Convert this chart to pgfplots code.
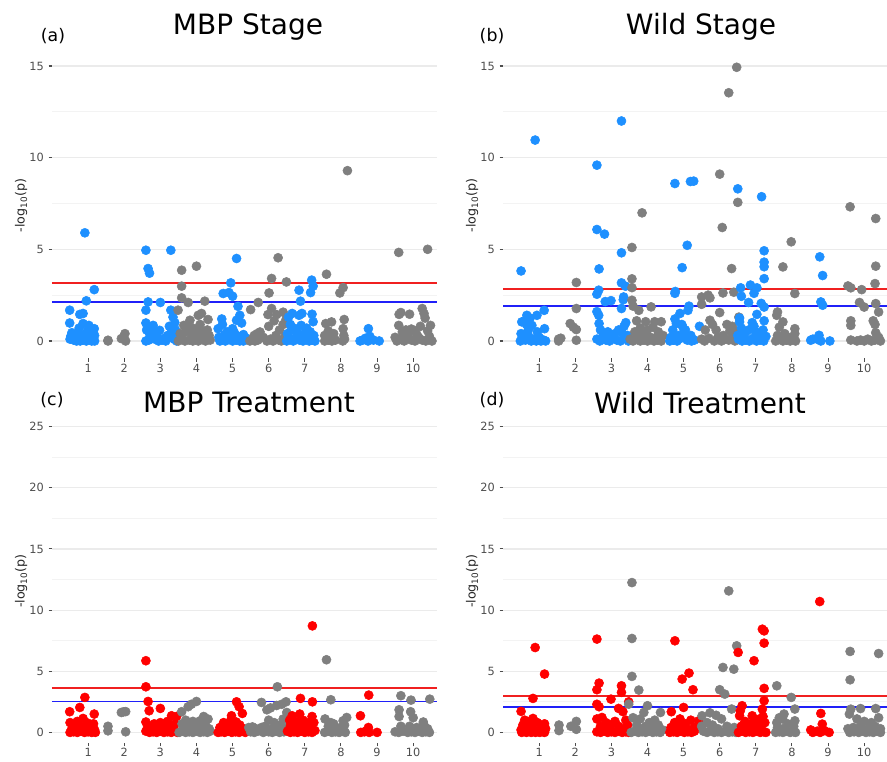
\documentclass[border=0pt]{standalone}
\usepackage{fontspec}
\setmainfont{DejaVu Sans}
\usepackage{pgfplots}
\pgfplotsset{compat=1.18}

\definecolor{dblue}{HTML}{1E90FF}
\definecolor{dgrey}{HTML}{7F7F7F}
\definecolor{dred}{HTML}{FF0000}
\definecolor{lred}{HTML}{F02020}
\definecolor{lblue}{HTML}{2020F8}
\definecolor{gridc}{HTML}{EBEBEB}
\definecolor{tickc}{HTML}{4D4D4D}

\pgfplotsset{
  manh/.style={
    scale only axis, width=288.75pt, xmin=0, xmax=10.66,
    xtick={1,...,10},
    axis x line*=bottom, axis y line*=left,
    axis line style={draw=none,-},
    tick align=outside, major tick length=2.6pt, minor tick length=0pt,
    tick style={color=tickc, line width=0.8pt},
    tick label style={font=\fontsize{8.5}{10}\selectfont, text=tickc},
    xticklabel style={inner sep=1.5pt},
    /pgf/number format/assume math mode=true,
    ymajorgrids, yminorgrids,
    major grid style={gridc, line width=0.9pt},
    minor grid style={gridc!60, line width=0.5pt},
    ylabel={-log\textsubscript{10}(p)},
    ylabel style={at={(axis description cs:-0.08,0.5)}, anchor=center,
      font=\fontsize{9.5}{11}\selectfont, text=black!85},
    clip=false,
  },
  stage/.style={manh, height=229.6pt, ymin=-0.95, ymax=15.75,
    ytick={0,5,10,15}, minor ytick={2.5,7.5,12.5}},
  treat/.style={manh, height=242.6pt, ymin=-0.85, ymax=25.6,
    ytick={0,5,...,25}, minor ytick={2.5,7.5,...,22.5}},
  pts/.style={only marks, mark=*, mark size=3.4pt, color=#1},
  redline/.style={lred, line width=1.3pt},
  blueline/.style={lblue, line width=1.3pt},
}

\begin{document}
\begin{tikzpicture}
\path[use as bounding box, clip] (0,0) rectangle (665.25pt,571.5pt);

% ---------------- (a) MBP Stage
\begin{axis}[stage, at={(39pt,302.7pt)}, anchor=south west]
\addplot[redline] coordinates {(0,3.15) (10.66,3.15)};
\addplot[blueline] coordinates {(0,2.14) (10.66,2.14)};
\addplot[pts=dblue] coordinates {(0.91,5.9) (1.17,2.8) (0.95,2.19) (0.49,1.68) (0.77,1.45) (0.86,1.5) (0.49,0.98) (0.86,0.95) (1.17,0.67) (0.75,0.7) (0.98,0.55) (0.55,0.45) (0.65,0.3) (0.72,0.15) (0.8,0.35) (0.9,0.2) (1.05,0.4) (1.12,0.15) (1.18,0.3) (0.5,0.1) (0.6,0.05) (0.68,0) (0.78,0) (0.85,0.05) (0.95,0) (1.0,0.1) (1.1,0) (1.18,0) (0.52,0.25) (1.02,0.85)};
\addplot[pts=dgrey] coordinates {(1.55,0.04) (1.55,0) (1.92,0.13) (2.02,0.4) (2.04,0) (1.98,0.2)};
\addplot[pts=dblue] coordinates {(2.6,4.95) (3.29,4.95) (2.66,3.95) (2.7,3.7) (2.66,2.13) (3.0,2.1) (2.6,1.68) (3.29,1.68) (3.35,1.3) (2.6,0.98) (2.8,0.85) (2.98,0.58) (3.25,0.8) (3.4,1.0) (2.62,0.6) (2.7,0.4) (2.75,0.2) (2.85,0.1) (2.9,0.35) (3.05,0.05) (3.12,0.15) (3.2,0.3) (3.3,0.45) (3.38,0.1) (3.45,0) (2.6,0) (2.68,0.05) (2.95,0) (3.15,0) (3.35,0.25) (3.42,0.6) (2.78,0.6)};
\addplot[pts=dgrey] coordinates {(3.59,3.86) (4.0,4.08) (3.59,2.99) (3.59,2.35) (3.77,2.1) (4.23,2.17) (3.49,1.68) (4.14,1.5) (4.05,1.4) (4.32,1.17) (3.82,1.13) (3.65,0.85) (4.0,0.6) (3.7,0.5) (3.75,0.85) (3.9,0.7) (3.85,0.4) (4.1,0.9) (4.2,0.5) (4.35,0.3) (3.55,0.4) (3.6,0.15) (3.68,0) (3.8,0.05) (3.95,0.2) (4.05,0) (4.15,0.1) (4.25,0) (4.38,0.05) (3.5,0) (3.9,0) (4.3,0.6) (4.12,0.3)};
\addplot[pts=dblue] coordinates {(5.11,4.5) (4.95,3.17) (4.74,2.59) (4.9,2.64) (5.0,2.44) (5.15,1.89) (5.2,1.4) (4.7,1.2) (5.11,1.13) (5.25,0.98) (5.0,0.67) (4.6,0.67) (4.72,0.9) (4.85,0.5) (4.95,0.3) (5.05,0.45) (5.3,0.35) (5.38,0.15) (4.62,0.2) (4.7,0.05) (4.8,0) (4.9,0.1) (5.0,0) (5.1,0.05) (5.2,0) (5.3,0) (4.65,0) (5.15,0.25) (4.78,0.35)};
\addplot[pts=dgrey] coordinates {(6.26,4.54) (6.08,3.41) (6.49,3.22) (6.01,2.62) (5.71,2.1) (5.5,1.71) (6.08,1.77) (5.98,1.44) (6.22,1.44) (6.4,1.57) (6.48,1.17) (6.0,0.8) (5.76,0.49) (5.6,0.3) (5.68,0.4) (6.15,1.1) (6.3,0.6) (6.4,0.9) (5.55,0.1) (5.62,0) (5.7,0.05) (5.85,0.2) (5.95,0) (6.05,0.1) (6.12,0) (6.2,0.3) (6.28,0.05) (6.35,0) (6.45,0.25) (5.48,0) (6.18,0.15)};
\addplot[pts=dblue] coordinates {(7.19,3.32) (7.23,2.99) (6.84,2.77) (7.16,2.64) (6.88,2.17) (6.65,1.5) (6.84,1.4) (6.92,1.5) (7.2,1.46) (6.55,1.3) (6.9,0.85) (7.23,1.05) (6.6,0.9) (6.7,0.7) (7.05,0.7) (7.15,0.5) (6.78,0.5) (6.95,0.3) (7.25,0.3) (6.52,0.4) (6.6,0.1) (6.68,0) (6.75,0.2) (6.85,0.05) (6.95,0) (7.05,0.15) (7.12,0) (7.2,0.05) (7.28,0) (6.5,0) (7.0,0.45) (6.62,0.6)};
\addplot[pts=dgrey] coordinates {(7.6,3.64) (8.18,9.29) (8.06,2.91) (7.97,2.62) (7.74,1.04) (7.58,0.95) (8.09,1.17) (8.06,0.67) (7.8,0.4) (7.55,0.3) (7.65,0.55) (8.08,0.3) (7.72,0.2) (7.55,0) (7.65,0.05) (7.75,0) (8.05,0) (8.1,0.1) (7.85,0.05)};
\addplot[pts=dblue] coordinates {(8.76,0.67) (8.53,0) (8.68,0.15) (8.8,0.25) (8.9,0.05) (9.06,0) (8.6,0.05) (8.75,0)};
\addplot[pts=dgrey] coordinates {(9.6,4.83) (10.4,5.0) (9.61,1.45) (9.66,1.55) (9.9,1.46) (10.25,1.77) (10.3,1.5) (10.33,1.25) (10.48,0.85) (9.6,0.85) (9.95,0.65) (10.05,0.55) (10.2,0.8) (9.7,0.5) (9.5,0.2) (9.55,0) (9.65,0.1) (9.75,0) (9.85,0.3) (9.95,0.05) (10.05,0) (10.15,0.2) (10.25,0.05) (10.35,0) (10.45,0.25) (10.52,0) (9.8,0.6) (10.1,0.35) (10.4,0.55)};
\end{axis}

% ---------------- (b) Wild Stage
\begin{axis}[stage, at={(377.25pt,302.7pt)}, anchor=south west]
\addplot[redline] coordinates {(0,2.82) (10.66,2.82)};
\addplot[blueline] coordinates {(0,1.91) (10.66,1.91)};
\addplot[pts=dblue] coordinates {(0.5,3.82) (0.89,10.96) (0.66,1.4) (0.94,1.4) (1.14,1.67) (1.15,0.67) (0.52,1.04) (0.6,1.1) (0.75,1.25) (0.8,0.85) (0.7,0.6) (0.5,0.4) (0.55,0.2) (0.62,0.05) (0.7,0.3) (0.78,0) (0.85,0.1) (0.92,0) (1.0,0.2) (1.05,0) (1.12,0.05) (1.18,0) (0.48,0) (0.65,0.9) (0.95,0.5)};
\addplot[pts=dgrey] coordinates {(2.03,3.19) (2.03,1.77) (1.86,0.95) (1.95,0.75) (2.03,0.62) (2.03,0.04) (1.54,0.1) (1.54,0) (1.6,0.15)};
\addplot[pts=dblue] coordinates {(3.28,12.0) (2.6,9.59) (2.6,6.08) (2.81,5.83) (3.28,4.81) (2.66,3.93) (3.28,3.17) (3.39,2.99) (2.65,2.77) (2.6,2.55) (2.83,2.15) (2.99,2.2) (3.34,2.4) (3.33,2.25) (3.28,1.77) (2.6,1.6) (2.65,1.4) (2.66,0.95) (3.4,1.0) (3.35,0.8) (2.7,0.6) (2.8,0.4) (2.9,0.5) (3.0,0.35) (3.1,0.4) (3.2,0.6) (3.3,0.45) (3.45,0.3) (2.6,0.1) (2.68,0) (2.75,0.2) (2.85,0.05) (2.95,0) (3.05,0.15) (3.15,0.05) (3.25,0) (3.38,0.15) (3.47,0)};
\addplot[pts=dgrey] coordinates {(3.85,6.99) (3.57,5.1) (3.57,3.39) (3.57,2.91) (3.57,2.22) (3.6,1.9) (3.76,1.67) (4.1,1.86) (3.7,1.1) (3.95,1.05) (4.2,1.05) (4.38,1.05) (3.8,0.7) (3.65,0.5) (4.0,0.6) (4.15,0.75) (4.3,0.5) (3.9,0.35) (4.25,0.2) (3.52,0.1) (3.6,0) (3.7,0.15) (3.8,0) (3.9,0.05) (4.0,0) (4.08,0.2) (4.18,0) (4.28,0.05) (4.38,0) (4.43,0.3) (3.75,0.4)};
\addplot[pts=dblue] coordinates {(4.76,8.59) (5.19,8.7) (5.28,8.72) (5.1,5.22) (4.96,4.0) (4.76,2.6) (4.77,2.7) (5.15,1.9) (5.12,1.67) (4.9,1.5) (4.76,1.2) (4.8,0.95) (5.44,0.8) (4.95,0.9) (5.05,0.6) (4.7,0.6) (4.85,0.3) (5.2,0.3) (5.3,0.05) (4.65,0.2) (4.62,0) (4.72,0.05) (4.82,0) (4.92,0.15) (5.0,0.4) (5.1,0.05) (5.22,0) (4.98,0.75)};
\addplot[pts=dgrey] coordinates {(6.0,9.1) (6.25,13.54) (6.47,14.93) (6.5,7.56) (6.07,6.19) (6.33,3.95) (6.09,2.62) (6.39,2.66) (5.5,2.4) (5.68,2.5) (5.73,2.35) (5.5,2.0) (6.0,1.55) (5.73,1.13) (5.8,0.9) (6.53,1.3) (6.2,0.9) (6.35,0.8) (5.6,0.6) (5.9,0.6) (6.1,0.3) (6.45,0.5) (5.5,0.1) (5.58,0) (5.7,0.15) (5.85,0) (5.95,0.2) (6.05,0) (6.15,0.1) (6.25,0.05) (6.35,0.2) (6.42,0) (6.28,0.55)};
\addplot[pts=dblue] coordinates {(6.5,8.3) (7.16,7.87) (7.23,4.92) (7.23,4.3) (7.23,4.05) (7.23,3.4) (6.58,2.9) (6.85,3.05) (7.03,2.9) (6.6,2.44) (6.95,2.6) (6.8,2.1) (7.15,2.05) (7.23,1.85) (7.03,1.45) (6.9,1.0) (7.23,1.1) (6.55,1.04) (6.55,1.25) (6.6,0.7) (6.7,0.4) (6.8,0.6) (7.0,0.5) (7.1,0.3) (7.2,0.6) (6.52,0.1) (6.62,0) (6.72,0.05) (6.82,0) (6.92,0.15) (7.02,0) (7.12,0.05) (7.22,0) (7.28,0.25) (6.5,0.3) (6.95,0.8)};
\addplot[pts=dgrey] coordinates {(7.98,5.41) (7.75,4.04) (8.08,2.59) (7.6,1.58) (7.58,1.4) (7.75,1.04) (7.65,0.75) (8.08,0.67) (8.08,0.4) (7.8,0.4) (7.6,0.3) (7.9,0.2) (7.55,0) (7.65,0.1) (7.75,0) (7.85,0.05) (7.95,0) (8.05,0.15) (8.1,0)};
\addplot[pts=dblue] coordinates {(8.77,4.59) (8.85,3.57) (8.8,2.13) (8.85,1.95) (8.52,0.04) (8.58,0.1) (8.75,0.31) (8.7,0.1) (9.05,0) (8.8,0)};
\addplot[pts=dgrey] coordinates {(9.61,7.32) (10.32,6.68) (10.32,4.08) (10.3,3.13) (9.55,3.0) (9.63,2.9) (9.93,2.8) (9.87,2.1) (10.0,1.85) (10.32,2.04) (10.4,1.58) (9.63,1.1) (9.63,0.85) (10.25,1.1) (10.3,0.9) (10.32,0.45) (9.63,0.05) (9.8,0) (9.9,0.05) (10.0,0) (10.1,0.1) (10.2,0) (10.3,0.05) (10.4,0.2) (10.45,0)};
\end{axis}

% ---------------- (c) MBP Treatment
\begin{axis}[treat, at={(39pt,14.4pt)}, anchor=south west]
\addplot[redline] coordinates {(0,3.66) (10.66,3.66)};
\addplot[blueline] coordinates {(0,2.52) (10.66,2.52)};
\addplot[pts=dred] coordinates {(0.91,2.86) (0.77,2.04) (0.49,1.69) (1.17,1.5) (0.86,1.14) (0.7,0.9) (0.5,0.8) (0.6,0.6) (1.0,0.75) (1.15,0.7) (0.8,0.5) (0.55,0.3) (0.65,0.15) (0.72,0.4) (0.9,0.25) (1.05,0.35) (1.18,0.2) (0.5,0) (0.6,0.05) (0.7,0) (0.8,0.1) (0.9,0) (1.0,0.05) (1.1,0) (1.2,0) (0.95,0.55)};
\addplot[pts=dgrey] coordinates {(1.92,1.63) (2.04,1.7) (1.98,1.68) (1.55,0.5) (1.55,0.13) (2.04,0.05)};
\addplot[pts=dred] coordinates {(2.6,5.86) (2.6,3.73) (2.66,2.53) (2.69,1.77) (3.0,1.96) (3.31,1.36) (3.45,1.3) (2.6,0.85) (2.83,0.7) (3.0,0.8) (3.2,0.9) (3.4,0.7) (2.65,0.5) (2.75,0.3) (2.9,0.45) (3.1,0.35) (3.3,0.5) (2.6,0.1) (2.7,0) (2.8,0.05) (2.9,0) (3.0,0.1) (3.1,0) (3.2,0.05) (3.3,0) (3.4,0.15) (3.47,0)};
\addplot[pts=dgrey] coordinates {(4.0,2.53) (3.86,2.3) (3.77,2.1) (3.59,1.69) (4.2,1.3) (4.32,1.09) (3.7,1.0) (3.9,0.9) (4.1,0.95) (3.6,0.7) (3.8,0.6) (4.05,0.55) (4.25,0.6) (3.65,0.3) (3.95,0.3) (4.15,0.25) (4.35,0.3) (3.52,0) (3.6,0.1) (3.7,0) (3.8,0.05) (3.9,0) (4.0,0.1) (4.1,0) (4.2,0.05) (4.3,0) (4.38,0.1)};
\addplot[pts=dred] coordinates {(5.11,2.5) (5.18,2.1) (5.27,1.55) (4.97,1.36) (4.95,1.0) (4.75,0.8) (5.1,0.85) (5.2,0.6) (4.85,0.5) (4.65,0.4) (5.0,0.35) (5.3,0.3) (4.7,0.15) (4.6,0) (4.68,0.05) (4.78,0) (4.88,0.1) (4.98,0) (5.08,0.05) (5.18,0) (5.28,0.1) (5.35,0)};
\addplot[pts=dgrey] coordinates {(6.24,3.73) (5.8,2.45) (6.48,2.5) (6.36,2.3) (6.22,2.2) (5.95,1.85) (6.05,2.0) (6.5,1.63) (6.4,1.09) (6.15,0.8) (6.0,1.0) (5.45,0.4) (5.55,0.45) (5.65,0.3) (5.8,0.4) (5.9,0.5) (6.1,0.3) (6.3,0.6) (6.45,0.4) (5.5,0.05) (5.6,0) (5.7,0.1) (5.85,0) (6.0,0.05) (6.1,0) (6.2,0.1) (6.3,0) (6.42,0.05) (6.2,0.5)};
\addplot[pts=dred] coordinates {(7.21,8.71) (6.88,2.78) (7.21,2.5) (6.86,1.5) (6.65,1.36) (7.2,1.3) (6.95,1.0) (6.58,1.0) (6.75,0.9) (7.1,0.8) (7.25,0.8) (6.6,0.5) (6.7,0.35) (6.85,0.55) (7.0,0.4) (7.15,0.3) (6.52,0.1) (6.6,0) (6.7,0.05) (6.8,0) (6.9,0.1) (7.0,0) (7.1,0.05) (7.2,0) (7.28,0.15)};
\addplot[pts=dgrey] coordinates {(7.6,5.94) (7.72,2.67) (7.56,1.1) (8.16,1.22) (8.06,0.95) (7.8,0.7) (7.72,0.8) (7.65,0.5) (8.0,0.4) (8.1,0.6) (7.9,0.2) (7.55,0) (7.65,0.1) (7.75,0) (7.85,0.05) (7.95,0) (8.05,0.1) (8.12,0)};
\addplot[pts=dred] coordinates {(8.77,3.05) (8.54,1.36) (8.76,0.4) (8.55,0) (8.78,0) (9.0,0) (8.65,0.05)};
\addplot[pts=dgrey] coordinates {(9.66,3.0) (9.94,2.64) (10.46,2.72) (9.61,1.85) (9.61,1.3) (9.93,1.69) (10.0,1.2) (10.28,0.85) (10.3,0.6) (9.66,0.5) (9.9,0.5) (10.1,0.4) (10.4,0.3) (9.5,0.05) (9.6,0) (9.72,0.1) (9.85,0) (9.95,0.05) (10.05,0) (10.15,0.1) (10.25,0) (10.35,0.05) (10.45,0)};
\end{axis}

% ---------------- (d) Wild Treatment
\begin{axis}[treat, at={(377.25pt,14.4pt)}, anchor=south west]
\addplot[redline] coordinates {(0,2.98) (10.66,2.98)};
\addplot[blueline] coordinates {(0,2.07) (10.66,2.07)};
\addplot[pts=dred] coordinates {(0.89,6.94) (1.15,4.77) (0.83,2.78) (0.5,1.72) (0.83,1.14) (0.6,1.0) (0.73,0.9) (1.15,0.7) (0.95,0.8) (0.55,0.6) (0.68,0.4) (0.8,0.5) (1.05,0.4) (0.5,0.2) (0.62,0.1) (0.75,0.2) (0.88,0.1) (1.0,0.15) (1.12,0.05) (0.52,0) (0.65,0) (0.78,0) (0.9,0) (1.02,0) (1.15,0) (1.18,0.3)};
\addplot[pts=dgrey] coordinates {(1.55,0.6) (1.55,0.15) (1.88,0.5) (2.03,0.9) (2.03,0.25)};
\addplot[pts=dred] coordinates {(2.6,7.63) (2.66,4.03) (2.6,3.49) (2.99,2.72) (3.28,3.81) (3.28,3.27) (2.6,2.3) (2.66,2.1) (3.48,2.5) (3.2,1.96) (3.32,1.7) (2.74,1.22) (3.02,0.68) (2.6,1.1) (2.85,0.8) (3.1,0.9) (3.4,1.0) (2.7,0.5) (2.9,0.4) (3.2,0.5) (3.35,0.3) (2.6,0.05) (2.7,0) (2.8,0.1) (2.9,0) (3.0,0.05) (3.1,0) (3.2,0.1) (3.3,0) (3.4,0.05) (3.48,0) (3.45,0.6)};
\addplot[pts=dgrey] coordinates {(3.57,12.25) (3.57,7.68) (3.57,4.58) (3.76,3.46) (3.48,2.31) (4.0,2.18) (3.9,1.63) (4.36,1.63) (3.8,1.1) (4.2,1.0) (3.6,1.2) (4.05,0.8) (3.7,0.6) (3.95,0.5) (4.3,0.6) (3.85,0.3) (4.15,0.4) (3.55,0) (3.65,0.1) (3.75,0) (3.85,0.05) (3.95,0) (4.05,0.1) (4.15,0) (4.25,0.05) (4.35,0) (4.42,0.2)};
\addplot[pts=dred] coordinates {(4.76,7.49) (5.15,4.85) (4.96,4.36) (5.26,3.49) (5.0,2.04) (4.66,1.69) (4.9,1.1) (5.2,1.0) (5.42,0.95) (4.75,0.8) (5.05,0.7) (4.65,0.4) (4.85,0.5) (5.1,0.3) (5.3,0.4) (4.62,0) (4.72,0.05) (4.82,0) (4.92,0.1) (5.02,0) (5.12,0.05) (5.22,0) (5.3,0.1) (4.95,0.55)};
\addplot[pts=dgrey] coordinates {(6.25,11.57) (6.47,7.08) (6.09,5.31) (6.39,5.17) (6.0,3.49) (6.14,3.13) (6.33,1.91) (5.51,1.36) (5.73,1.6) (5.9,1.4) (6.05,1.1) (5.65,0.8) (5.5,0.5) (5.8,0.6) (6.2,0.5) (6.4,0.4) (5.95,0.3) (5.55,0.1) (5.65,0) (5.75,0.15) (5.85,0) (5.95,0.05) (6.05,0) (6.15,0.1) (6.25,0) (6.35,0.05) (6.45,0)};
\addplot[pts=dred] coordinates {(6.51,6.54) (6.95,5.86) (7.18,8.44) (7.23,8.3) (7.23,7.3) (7.23,3.6) (7.23,2.59) (6.62,2.18) (6.57,1.77) (6.55,1.36) (7.18,1.9) (6.9,1.36) (7.1,1.1) (7.2,1.3) (6.7,0.9) (6.85,0.7) (7.0,0.8) (7.25,0.8) (6.6,0.5) (6.75,0.3) (6.95,0.4) (7.15,0.5) (6.52,0) (6.62,0.1) (6.72,0) (6.82,0.05) (6.92,0) (7.02,0.1) (7.12,0) (7.22,0.05) (7.28,0)};
\addplot[pts=dgrey] coordinates {(7.58,3.81) (7.98,2.86) (8.08,1.91) (7.78,1.5) (7.74,1.1) (8.08,0.95) (7.58,0.8) (7.65,1.2) (7.88,0.7) (8.05,0.5) (7.6,0.4) (7.75,0.3) (7.55,0) (7.65,0.05) (7.75,0) (7.85,0.1) (7.95,0) (8.05,0.05) (8.1,0)};
\addplot[pts=dred] coordinates {(8.77,10.7) (8.8,1.55) (8.84,0.68) (8.52,0.2) (8.58,0) (8.7,0.1) (8.78,0) (8.9,0.15) (9.03,0)};
\addplot[pts=dgrey] coordinates {(9.61,6.62) (10.4,6.45) (9.61,4.3) (9.63,1.9) (9.59,1.5) (9.9,1.95) (10.32,1.95) (10.4,1.2) (9.8,1.1) (10.0,0.9) (10.2,0.8) (9.55,0.3) (9.7,0.4) (9.9,0.5) (10.1,0.3) (10.3,0.5) (10.45,0.3) (9.6,0) (9.72,0.05) (9.85,0) (9.95,0.1) (10.05,0) (10.15,0.05) (10.25,0) (10.35,0.1) (10.45,0)};
\end{axis}

% titles and panel letters
\node[font=\fontsize{21}{25}\selectfont] at (186pt,551.25pt) {MBP Stage};
\node[font=\fontsize{21}{25}\selectfont] at (525.75pt,551.25pt) {Wild Stage};
\node[font=\fontsize{21}{25}\selectfont] at (186.75pt,269.25pt) {MBP Treatment};
\node[font=\fontsize{21}{25}\selectfont] at (525pt,269.25pt) {Wild Treatment};
\node[font=\fontsize{13}{15}\selectfont] at (39.75pt,544.5pt) {(a)};
\node[font=\fontsize{13}{15}\selectfont] at (369pt,544.5pt) {(b)};
\node[font=\fontsize{13}{15}\selectfont] at (39pt,271.5pt) {(c)};
\node[font=\fontsize{13}{15}\selectfont] at (369pt,271.5pt) {(d)};
\end{tikzpicture}
\end{document}
